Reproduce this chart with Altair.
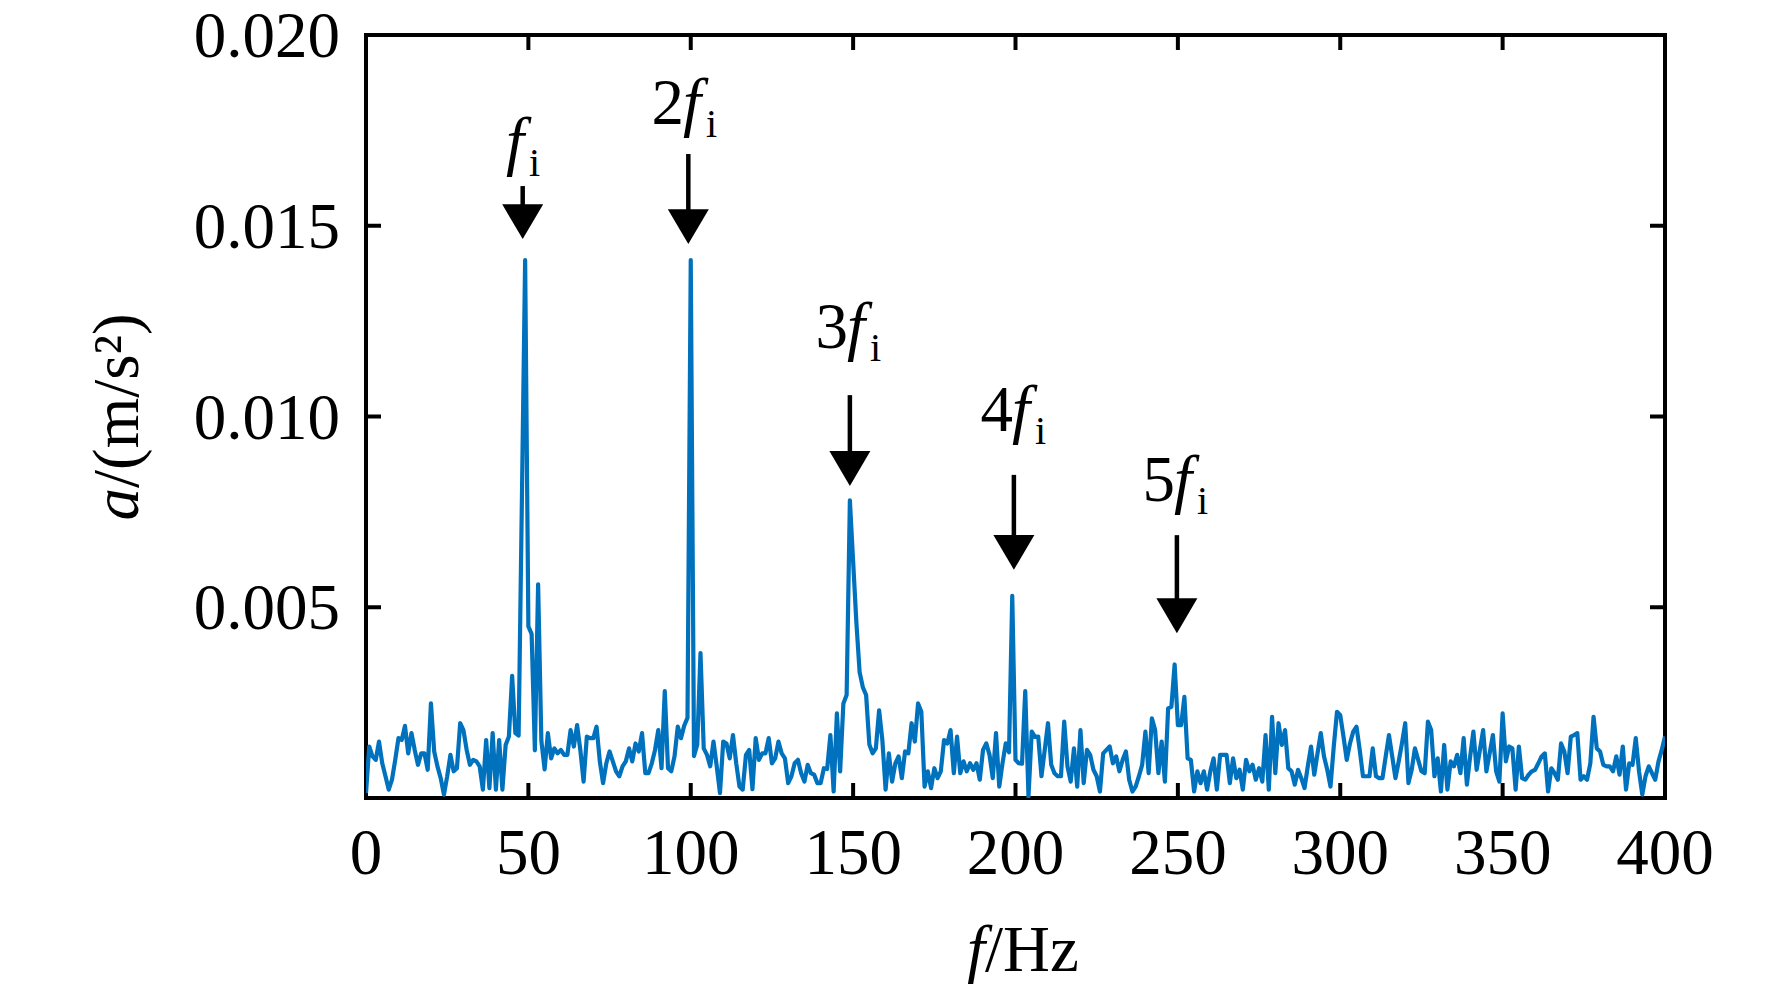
import altair as alt
import pandas as pd

# ---------------- data ----------------
freq_hz = list(range(0, 401))
# acceleration amplitude in units of 1e-4 m/s^2, one value per Hz
accel_1e4 = [
    1.3, 13.5, 10.9, 10, 14.8, 9.1, 5.7, 2.2, 4.8, 10,
    15.7, 15.2, 18.9, 11.7, 17, 12.6, 8.7, 11.7, 11.7, 7.4,
    24.8, 12.2, 8.3, 5.2, 0.9, 5.7, 11.3, 7, 7.8, 19.6,
    17.8, 12.6, 8.7, 10, 9.6, 8.3, 2.2, 15.2, 2.6, 17,
    2.2, 15.2, 2.2, 13.9, 16.1, 32, 17, 16.4, 78, 141,
    45, 43, 12.5, 56, 15, 7.5, 17, 10.4, 13, 11.7,
    12.6, 11.3, 11.3, 17.8, 13.5, 19.1, 12.6, 4.3, 16.1, 15.7,
    15.7, 18.7, 9.6, 3.9, 9.1, 12.2, 9.6, 7, 5.7, 8.3,
    9.6, 13, 9.6, 14.3, 12.2, 17, 6.5, 6.5, 9.1, 12.6,
    17.8, 7.8, 28, 7.8, 7, 10.9, 18.7, 15.7, 19, 21,
    141, 11, 14, 38, 13, 11.3, 8.3, 14.8, 8.3, 1.3,
    14.8, 14.3, 10.4, 16.5, 9.1, 3, 2.2, 11.3, 12.6, 2.3,
    15.7, 10, 11.7, 11.7, 15.7, 9.1, 10.4, 14.8, 11.7, 10.4,
    3.9, 5.7, 9.1, 10, 6.5, 4.3, 8.7, 6.5, 6.1, 3.9,
    3.9, 7.8, 7.6, 16.5, 1.7, 22.2, 7, 24.8, 27, 78,
    62, 46, 33, 29, 27, 14, 11.7, 13, 23, 15.2,
    2.2, 11.7, 4.3, 9.1, 10.9, 5.2, 12.2, 11.7, 19.6, 14.8,
    24.8, 22.6, 3, 7, 2.6, 7.8, 5.2, 7, 15.2, 14.3,
    17.8, 6.5, 16.1, 6.5, 9.6, 7, 9.1, 7.4, 9.1, 4.8,
    12.6, 14.3, 11.3, 5.2, 17, 3, 9.1, 14.3, 12, 53,
    10, 9.1, 9, 28, 0.4, 17.4, 16, 16.1, 5.7, 12.6,
    19.6, 8.7, 6.5, 5.7, 5.7, 20, 8.3, 4.3, 13, 3,
    17.8, 3.9, 12.6, 11.3, 7.4, 5.7, 1.7, 11.7, 12.6, 13.5,
    9.1, 10.9, 7, 10, 12.2, 4.8, 1.7, 3, 5.7, 8.7,
    17.4, 6.5, 20.9, 17.8, 6.5, 14.8, 4.3, 23.5, 23.9, 35,
    19.1, 19.1, 26.5, 10.4, 10, 1.7, 7, 3.9, 7, 2.2,
    7, 10.4, 2.2, 11.3, 11.3, 11.3, 3.9, 10.4, 5.2, 7.4,
    2.2, 10, 7, 8.7, 4.8, 7.8, 4.3, 16.5, 2.2, 21.3,
    6.5, 19.6, 13.9, 17.8, 7.8, 7, 3.5, 7.4, 5.2, 2.6,
    8.3, 13.5, 6.1, 11.7, 17, 10.9, 7.4, 3, 13.5, 22.6,
    21.7, 16.1, 10, 14.3, 17.4, 18.7, 12.6, 5.7, 5.7, 5.7,
    13, 5.7, 5.2, 5.2, 10.9, 16.5, 10.9, 5.2, 9.6, 14.3,
    19.6, 3.9, 7.4, 13, 10, 7, 6.5, 20, 17.8, 5.7,
    10.4, 1.7, 13.9, 2.2, 9.6, 8.3, 11.3, 6.5, 15.7, 3.5,
    10.9, 17.4, 7.4, 12.6, 17.8, 7, 11.7, 16.5, 7, 4.3,
    22.2, 9.6, 13.5, 13, 2.2, 13.5, 5.2, 4.8, 6.1, 7,
    7.4, 9.1, 10.9, 11.7, 1.7, 7.8, 6.5, 4.8, 14.3, 12.2,
    6.5, 16.1, 16.5, 17, 4.8, 5.7, 4.8, 9.1, 21.3, 13,
    12.2, 8.7, 8.3, 8.3, 7, 10.9, 6.1, 13.5, 2.2, 9.1,
    8.7, 15.7, 7, 0.9, 5.7, 8.3, 6.5, 4.8, 9.6, 12.6,
    16.1,
]
assert len(accel_1e4) == len(freq_hz)
accel = [round(v * 1e-4, 7) for v in accel_1e4]

x_label_values = [0, 50, 100, 150, 200, 250, 300, 350, 400]
x_label_text = ["0", "50", "100", "150", "200", "250", "300", "350", "400"]
x_tick_values = [50, 100, 150, 200, 250, 300, 350]
y_label_values = [0.005, 0.010, 0.015, 0.020]
y_label_text = ["0.005", "0.010", "0.015", "0.020"]
y_tick_values = [0.005, 0.010, 0.015]

# harmonic annotations
harm_num = ["", "2", "3", "4", "5"]
harm_f_text = ["f", "f", "f", "f", "f"]
harm_sub_text = ["i", "i", "i", "i", "i"]
arrow_x = [48.25, 99.25, 149.0, 199.5, 249.7]
shaft_top = [0.01604, 0.01688, 0.01056, 0.00847, 0.00689]
shaft_bottom = [0.01525, 0.01512, 0.00878, 0.00658, 0.00492]
arrow_tip = [0.01465, 0.01452, 0.00818, 0.00598, 0.00432]
label_x = [43.1, 97.6, 148.1, 198.9, 248.8]
label_y = [0.01664, 0.01767, 0.01180, 0.00962, 0.00778]

y_title_parts = ["a", "/(m/s²)"]
x_title_parts = ["f", "/Hz"]

# ---------------- chart ----------------
W, H = 1299, 763
FONT = "Liberation Serif"
FS = 65
TICK_LEN = 15

xs = alt.Scale(domain=[0, 400], nice=False, zero=False)
ys = alt.Scale(domain=[0, 0.02], nice=False, zero=False)

spec_df = pd.DataFrame({"f": freq_hz, "a": accel})

line = alt.Chart(spec_df).mark_line(
    color="#0072BD", strokeWidth=4.2, strokeJoin="round", clip=True
).encode(
    x=alt.X("f:Q", scale=xs, axis=None),
    y=alt.Y("a:Q", scale=ys, axis=None),
)

xt_df = pd.DataFrame({"f": x_tick_values})
yt_df = pd.DataFrame({"a": y_tick_values})
xl_df = pd.DataFrame({"f": x_label_values, "t": x_label_text})
yl_df = pd.DataFrame({"a": y_label_values, "t": y_label_text})

bottom_ticks = alt.Chart(xt_df).mark_rule(color="black", strokeWidth=4).encode(
    x=alt.X("f:Q", scale=xs, axis=None), y=alt.value(H), y2=alt.value(H - TICK_LEN))
top_ticks = alt.Chart(xt_df).mark_rule(color="black", strokeWidth=4).encode(
    x=alt.X("f:Q", scale=xs, axis=None), y=alt.value(0), y2=alt.value(TICK_LEN))
left_ticks = alt.Chart(yt_df).mark_rule(color="black", strokeWidth=4).encode(
    y=alt.Y("a:Q", scale=ys, axis=None), x=alt.value(0), x2=alt.value(TICK_LEN))
right_ticks = alt.Chart(yt_df).mark_rule(color="black", strokeWidth=4).encode(
    y=alt.Y("a:Q", scale=ys, axis=None), x=alt.value(W), x2=alt.value(W - TICK_LEN))

x_labels = alt.Chart(xl_df).mark_text(
    font=FONT, fontSize=FS, align="center", baseline="alphabetic", color="black"
).encode(x=alt.X("f:Q", scale=xs, axis=None), y=alt.value(H + 76), text="t:N")
y_labels = alt.Chart(yl_df).mark_text(
    font=FONT, fontSize=FS, align="right", baseline="alphabetic", color="black", dy=22
).encode(y=alt.Y("a:Q", scale=ys, axis=None), x=alt.value(-26), text="t:N")

ann_df = pd.DataFrame({
    "num": harm_num, "ftxt": harm_f_text, "sub": harm_sub_text,
    "ax": arrow_x, "top": shaft_top, "bot": shaft_bottom, "tip": arrow_tip,
    "lx": label_x, "ly": label_y,
})

shafts = alt.Chart(ann_df).mark_rule(color="black", strokeWidth=4.5).encode(
    x=alt.X("ax:Q", scale=xs, axis=None),
    y=alt.Y("top:Q", scale=ys, axis=None),
    y2="bot:Q",
)
heads = alt.Chart(ann_df).mark_point(
    shape="M-1,-1.7L1,-1.7L0,0Z", filled=True, size=1681, color="black",
    opacity=1, strokeWidth=0
).encode(
    x=alt.X("ax:Q", scale=xs, axis=None),
    y=alt.Y("tip:Q", scale=ys, axis=None),
)

lab_num = alt.Chart(ann_df).mark_text(
    font=FONT, fontSize=FS, align="right", baseline="alphabetic", color="black", dx=1
).encode(
    x=alt.X("lx:Q", scale=xs, axis=None), y=alt.Y("ly:Q", scale=ys, axis=None),
    text="num:N")
lab_f = alt.Chart(ann_df).mark_text(
    font=FONT, fontSize=FS, fontStyle="italic", align="left", baseline="alphabetic",
    color="black"
).encode(
    x=alt.X("lx:Q", scale=xs, axis=None), y=alt.Y("ly:Q", scale=ys, axis=None),
    text="ftxt:N")
lab_sub = alt.Chart(ann_df).mark_text(
    font=FONT, fontSize=40, align="left", baseline="alphabetic", color="black",
    dx=23, dy=13
).encode(
    x=alt.X("lx:Q", scale=xs, axis=None), y=alt.Y("ly:Q", scale=ys, axis=None),
    text="sub:N")

one = pd.DataFrame({"k": [0]})
ytitle_a = alt.Chart(one).mark_text(
    font=FONT, fontSize=FS, fontStyle="italic", align="right", baseline="alphabetic",
    angle=270, color="black"
).encode(x=alt.value(-228), y=alt.value(453), text=alt.value(y_title_parts[0]))
ytitle_b = alt.Chart(one).mark_text(
    font=FONT, fontSize=FS, align="left", baseline="alphabetic",
    angle=270, color="black"
).encode(x=alt.value(-228), y=alt.value(453), text=alt.value(y_title_parts[1]))

xtitle_f = alt.Chart(one).mark_text(
    font=FONT, fontSize=FS, fontStyle="italic", align="right", baseline="alphabetic",
    color="black"
).encode(x=alt.value(619), y=alt.value(936), text=alt.value(x_title_parts[0]))
xtitle_b = alt.Chart(one).mark_text(
    font=FONT, fontSize=FS, align="left", baseline="alphabetic", color="black"
).encode(x=alt.value(619), y=alt.value(936), text=alt.value(x_title_parts[1]))

chart = alt.layer(
    line, bottom_ticks, top_ticks, left_ticks, right_ticks, x_labels, y_labels,
    shafts, heads, lab_num, lab_f, lab_sub,
    ytitle_a, ytitle_b, xtitle_f, xtitle_b,
).properties(
    width=W, height=H,
    autosize=alt.AutoSizeParams(type="none"),
    padding={"left": 358, "top": 27, "right": 80, "bottom": 186},
    background="white",
).configure_view(stroke="black", strokeWidth=4)

chart.save("out.html", embed_options={"renderer": "svg", "actions": False})
